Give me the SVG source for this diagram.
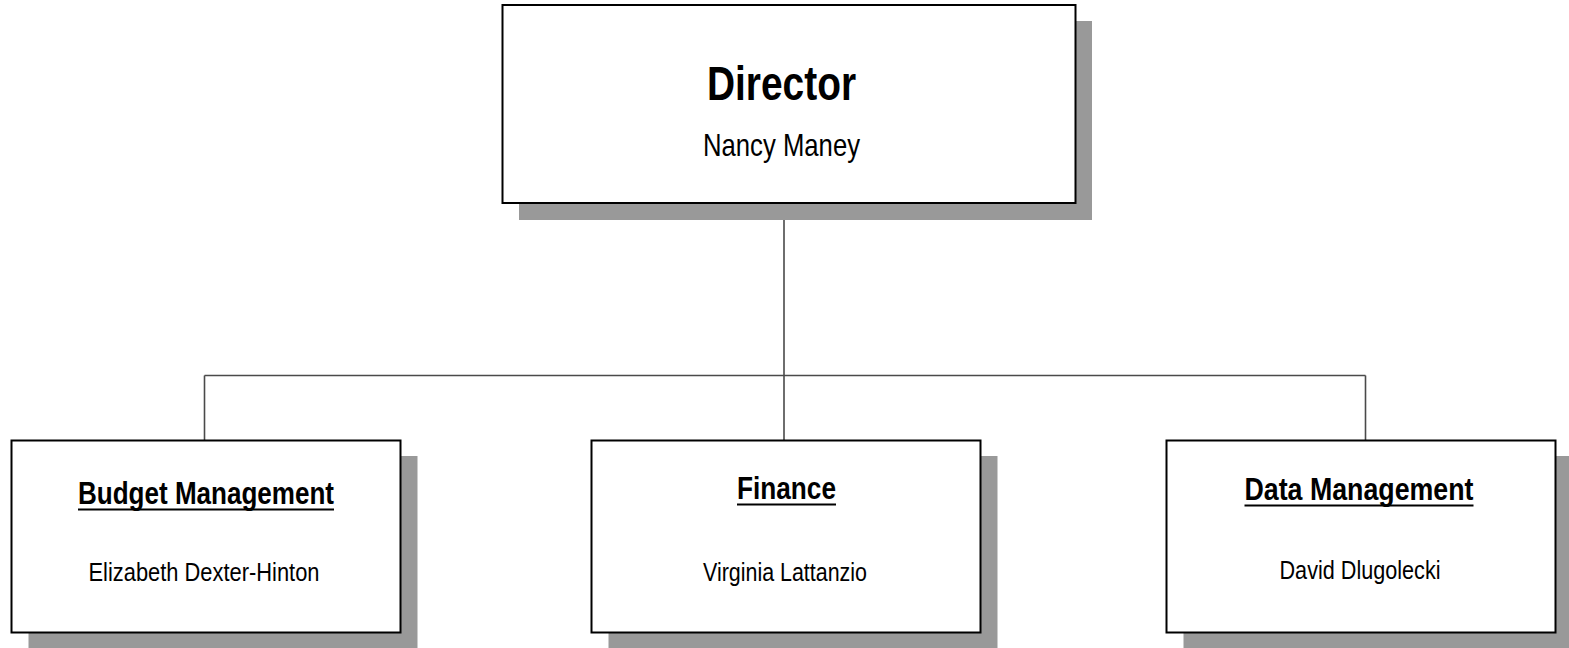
<svg xmlns="http://www.w3.org/2000/svg" width="1569" height="648" viewBox="0 0 1569 648">
<style>
.shadow{fill:#999999;stroke:none}
.box{fill:#ffffff;stroke:#000000;stroke-width:2}
.conn{stroke:#4a4a4a;stroke-width:1.6;fill:none}
.t{font-family:"Liberation Sans Narrow","Arial Narrow","Liberation Sans",Arial,sans-serif;fill:#000;text-anchor:middle}
.title{font-weight:bold;font-size:32px}
.name{font-size:26.5px}
.ul{stroke:#000;stroke-width:2}
</style>
<rect width="1569" height="648" fill="#ffffff"/>
<g id="connectors">
<line class="conn" x1="784" y1="204" x2="784" y2="441"/>
<line class="conn" x1="204.5" y1="375.5" x2="1365.5" y2="375.5"/>
<line class="conn" x1="204.5" y1="375.5" x2="204.5" y2="441"/>
<line class="conn" x1="1365.5" y1="375.5" x2="1365.5" y2="441"/>
</g>
<g id="director">
<rect class="shadow" x="519" y="21" width="573" height="199"/>
<rect class="box" x="502.5" y="5" width="573" height="198"/>
<text class="t" x="781.5" y="100" font-size="47.5" font-weight="bold" textLength="149" lengthAdjust="spacingAndGlyphs">Director</text>
<text class="t" x="781.5" y="156" font-size="32" textLength="157" lengthAdjust="spacingAndGlyphs">Nancy Maney</text>
</g>
<g id="budget">
<rect class="shadow" x="28.5" y="456" width="389" height="192"/>
<rect class="box" x="11.5" y="440.5" width="389" height="192"/>
<text class="t title" x="206" y="504" textLength="256" lengthAdjust="spacingAndGlyphs">Budget Management</text>
<line class="ul" x1="78" y1="509.5" x2="334" y2="509.5"/>
<text class="t name" x="204" y="581" textLength="231" lengthAdjust="spacingAndGlyphs">Elizabeth Dexter-Hinton</text>
</g>
<g id="finance">
<rect class="shadow" x="608.5" y="456" width="389" height="192"/>
<rect class="box" x="591.5" y="440.5" width="389" height="192"/>
<text class="t title" x="786.5" y="499" textLength="99" lengthAdjust="spacingAndGlyphs">Finance</text>
<line class="ul" x1="737" y1="504.5" x2="836" y2="504.5"/>
<text class="t name" x="785" y="581" textLength="164" lengthAdjust="spacingAndGlyphs">Virginia Lattanzio</text>
</g>
<g id="data">
<rect class="shadow" x="1183.5" y="456" width="389" height="192"/>
<rect class="box" x="1166.5" y="440.5" width="389" height="192"/>
<text class="t title" x="1359" y="500" textLength="229" lengthAdjust="spacingAndGlyphs">Data Management</text>
<line class="ul" x1="1244.5" y1="505.5" x2="1473.5" y2="505.5"/>
<text class="t name" x="1360" y="579" textLength="161" lengthAdjust="spacingAndGlyphs">David Dlugolecki</text>
</g>
</svg>
